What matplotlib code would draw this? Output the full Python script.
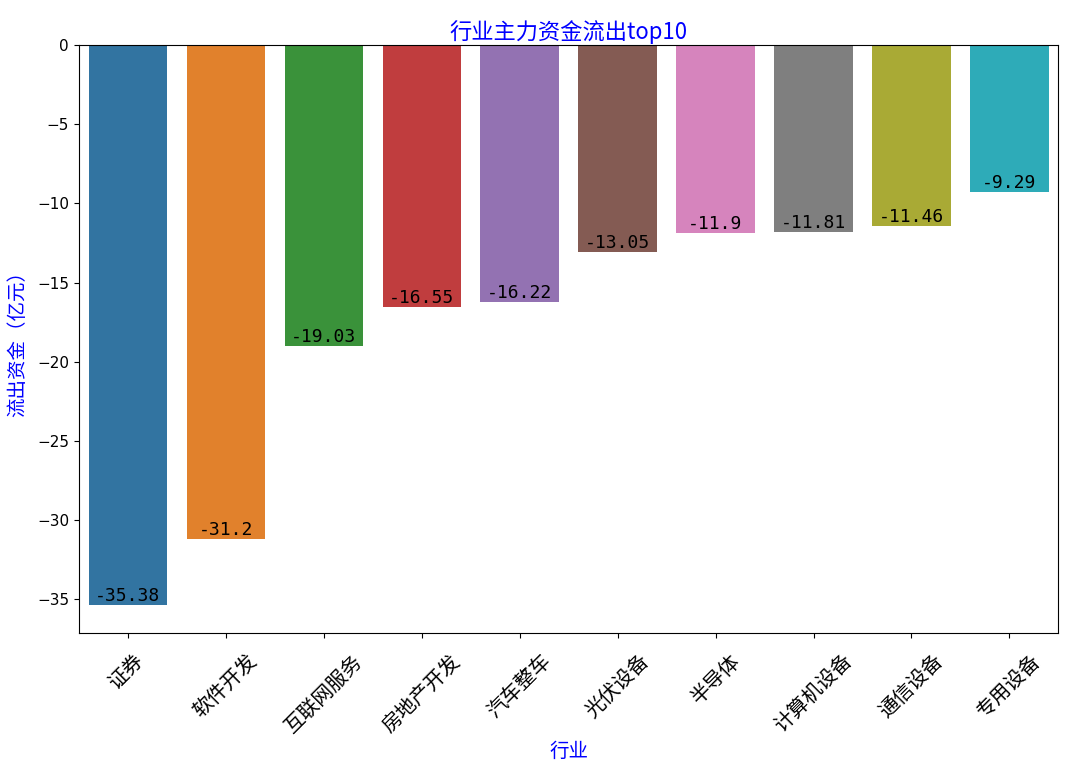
import matplotlib
matplotlib.use("Agg")
import matplotlib.pyplot as plt
import seaborn as sns
import pandas as pd

industries = ["证券", "软件开发", "互联网服务", "房地产开发", "汽车整车",
              "光伏设备", "半导体", "计算机设备", "通信设备", "专用设备"]
outflow = [-35.38, -31.2, -19.03, -16.55, -16.22, -13.05, -11.9, -11.81, -11.46, -9.29]

plt.rcParams['font.family'] = ['Noto Sans CJK SC', 'DejaVu Sans']
plt.rcParams['axes.unicode_minus'] = True

df = pd.DataFrame({"industry": industries, "flow": outflow})

fig = plt.figure(figsize=(10.8, 7.76), dpi=100)
ax = fig.add_axes([0.073, 0.184, 0.907, 0.758])
sns.barplot(data=df, x="industry", y="flow", hue="industry", palette="tab10",
            legend=False, ax=ax)

for i, v in enumerate(outflow):
    ax.text(i, v, f"{v}", ha="center", va="bottom", fontsize=13,
            family=['DejaVu Sans Mono'])

ax.set_title("行业主力资金流出top10", color="blue", fontsize=16, pad=4)
ax.set_xlabel("行业", color="blue", fontsize=14, labelpad=3)
ax.set_ylabel("流出资金（亿元）", color="blue", fontsize=14, labelpad=6)
ax.tick_params(axis="x", labelsize=14.5, rotation=45, pad=9)
ax.tick_params(axis="y", labelsize=11)
for lbl in ax.get_yticklabels():
    lbl.set_family(['DejaVu Sans'])

fig.savefig("out.png", dpi=100)
